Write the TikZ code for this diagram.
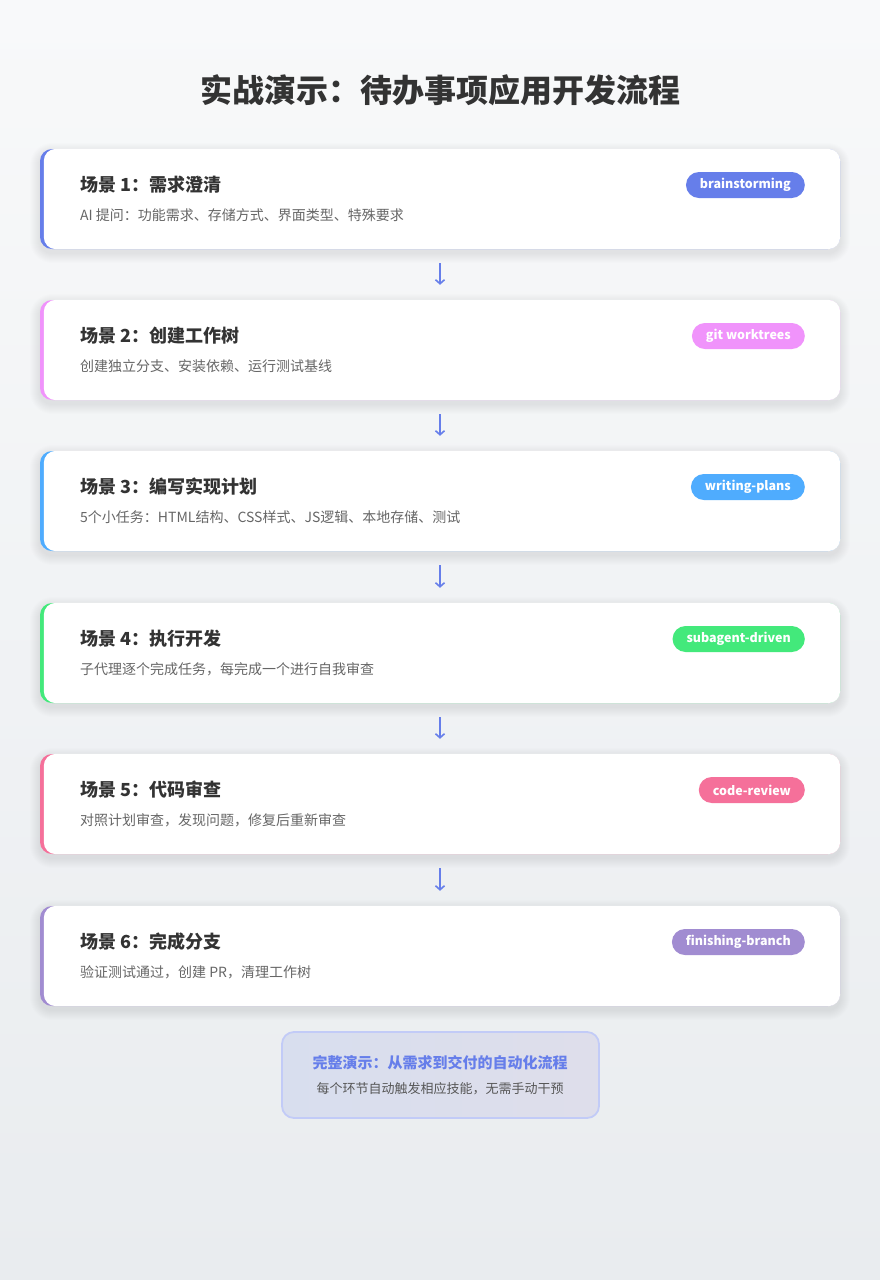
\documentclass[tikz,border=0pt]{standalone}
\usepackage{fontspec}
\setmainfont{Noto Sans CJK SC}
\usetikzlibrary{arrows.meta}
\definecolor{bgtop}{HTML}{F8F9FA}
\definecolor{bgbot}{HTML}{E9ECEF}
\definecolor{ttl}{HTML}{333333}
\definecolor{dsc}{HTML}{666666}
\definecolor{cA}{HTML}{667EEA}
\definecolor{cB}{HTML}{F093FB}
\definecolor{cC}{HTML}{4FACFE}
\definecolor{cD}{HTML}{43E97B}
\definecolor{cE}{HTML}{F5709A}
\definecolor{cF}{HTML}{A18CD1}
\tikzset{
  cardbox/.style={rectangle, rounded corners=12pt, minimum width=800pt, minimum height=100pt, inner sep=0pt},
  cardtitle/.style={anchor=west, inner sep=0pt, text=ttl, font=\fontsize{18}{22}\selectfont\bfseries},
  carddesc/.style={anchor=west, inner sep=0pt, text=dsc, font=\fontsize{14}{17}\selectfont},
  badge/.style={anchor=east, rounded corners=13pt, minimum height=26pt, inner xsep=14pt, inner ysep=0pt,
    text=white, font=\fontsize{12.5}{15}\selectfont\bfseries},
  flowarrow/.style={draw=cA, line width=1.6pt, -{Straight Barb[length=4pt,width=9pt,line width=1.6pt]},
    shorten <=14pt, shorten >=15pt},
  shadowlayer/.style={fill=black, fill opacity=0.006},
}
\newcommand\mkcard[6]{%
  \foreach \k in {1,...,10}{%
    \fill[shadowlayer, rounded corners=12pt+\k pt] (40-\k,#2+4-\k) rectangle (840+\k,#2+104+\k);
  }
  \node[cardbox, fill=#3] (c#1) at (440,#2+50) {};
  \fill[white, rounded corners=12pt] ([xshift=4pt]c#1.south west) rectangle (c#1.north east);
  \node[cardtitle] (t#1) at (80,#2+36) {#4};
  \node[carddesc] (d#1) at (80,#2+66) {#5};
  \node[badge, fill=#3] (b#1) at (805,#2+36) {#6};
}
\begin{document}
\begin{tikzpicture}[x=1pt,y=-1pt]
\useasboundingbox (0,0) rectangle (880,1280);
\shade[top color=bgtop, bottom color=bgbot] (0,0) rectangle (880,1280);
\node[text=ttl, font=\fontsize{32}{38}\selectfont\bfseries] (title) at (440,90) {实战演示：待办事项应用开发流程};
\mkcard{1}{149}{cA}{场景 1：需求澄清}{AI 提问：功能需求、存储方式、界面类型、特殊要求}{brainstorming}
\mkcard{2}{300}{cB}{场景 2：创建工作树}{创建独立分支、安装依赖、运行测试基线}{git worktrees}
\mkcard{3}{451}{cC}{场景 3：编写实现计划}{5个小任务：HTML结构、CSS样式、JS逻辑、本地存储、测试}{writing-plans}
\mkcard{4}{603}{cD}{场景 4：执行开发}{子代理逐个完成任务，每完成一个进行自我审查}{subagent-driven}
\mkcard{5}{754}{cE}{场景 5：代码审查}{对照计划审查，发现问题，修复后重新审查}{code-review}
\mkcard{6}{906}{cF}{场景 6：完成分支}{验证测试通过，创建 PR，清理工作树}{finishing-branch}
\draw[flowarrow] (c1.south) -- (c2.north);
\draw[flowarrow] (c2.south) -- (c3.north);
\draw[flowarrow] (c3.south) -- (c4.north);
\draw[flowarrow] (c4.south) -- (c5.north);
\draw[flowarrow] (c5.south) -- (c6.north);
\node[rectangle, rounded corners=12pt, minimum width=317pt, minimum height=86pt, line width=1.8pt,
  draw=cA!40!white, left color=cA!13!bgbot, right color=cF!15!bgbot] (sum) at (440.5,1075) {};
\node[text=cA, font=\fontsize{15}{18}\selectfont\bfseries] (sumt) at (440,1063) {完整演示：从需求到交付的自动化流程};
\node[text=dsc!85!black, font=\fontsize{13}{16}\selectfont] (sumd) at (440,1089) {每个环节自动触发相应技能，无需手动干预};
\end{tikzpicture}
\end{document}
